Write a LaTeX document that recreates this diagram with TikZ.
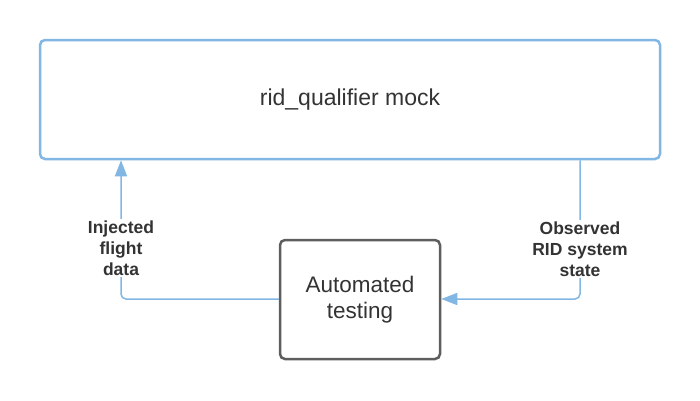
\documentclass[tikz,border=0pt]{standalone}
\usepackage{fontspec}
\setmainfont{Liberation Sans}
\usetikzlibrary{arrows.meta}
\definecolor{lblue}{HTML}{82B6E3}
\definecolor{dgray}{HTML}{5E5E5E}
\definecolor{txt}{HTML}{333333}
\tikzset{
  bluebox/.style={draw=lblue,line width=2.5pt,rounded corners=5pt,inner sep=0pt,text=txt,font=\fontsize{23}{26}\selectfont,align=center},
  graybox/.style={draw=dgray,line width=2.5pt,rounded corners=5pt,inner sep=0pt,text=txt,font=\fontsize{22.5}{26}\selectfont,align=center},
  conn/.style={draw=lblue,line width=1.5pt,rounded corners=5pt,-{Triangle[length=16pt,width=12pt]}},
  lbl/.style={fill=white,text=txt,font=\bfseries\fontsize{17.5}{21}\selectfont,align=center,inner sep=2pt}
}
\begin{document}
\begin{tikzpicture}[x=1pt,y=-1pt]
\useasboundingbox (0,0) rectangle (700,400);
\node[bluebox,minimum width=620pt,minimum height=119pt] (mock) at (350,99.5) {rid\_qualifier mock};
\node[graybox,minimum width=160pt,minimum height=119pt] (auto) at (360,299.5) {Automated\\testing};
\coordinate (lc) at (121,299);
\coordinate (rc) at (580,299);
\draw[conn] (auto.west |- lc) -- (lc) -- (lc |- mock.south);
\draw[conn] (rc |- mock.south) -- (rc) -- (auto.east |- rc);
\node[lbl] (inj) at (121,248) {Injected\\flight\\data};
\node[lbl] (obs) at (580,249) {Observed\\RID system\\state};
\end{tikzpicture}
\end{document}
